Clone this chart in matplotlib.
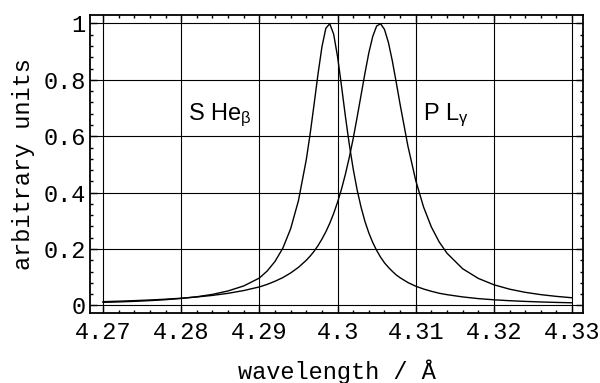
import matplotlib
matplotlib.use('Agg')
import matplotlib.pyplot as plt
from matplotlib.ticker import MultipleLocator, FixedLocator

# wavelength samples (Angstrom) and read-off intensities of the two lines
wavelength = [4.270, 4.272, 4.274, 4.276, 4.278, 4.280, 4.282, 4.284, 4.286, 4.288,
              4.290, 4.291, 4.292, 4.293, 4.294, 4.295, 4.296, 4.2965, 4.297, 4.2975,
              4.298, 4.2985, 4.299, 4.2995, 4.300, 4.3005, 4.301, 4.3015, 4.302, 4.3025,
              4.303, 4.3035, 4.304, 4.3045, 4.305, 4.3055, 4.306, 4.3065, 4.307, 4.3075,
              4.308, 4.309, 4.310, 4.311, 4.312, 4.313, 4.314, 4.316, 4.318, 4.320,
              4.322, 4.324, 4.326, 4.328, 4.330]

s_he_beta = [0.0107, 0.0123, 0.0143, 0.0169, 0.0202, 0.0246, 0.0306, 0.0390, 0.0513, 0.0690,
             0.097, 0.122, 0.156, 0.203, 0.272, 0.372, 0.517, 0.610, 0.714, 0.821,
             0.917, 0.983, 0.999, 0.962, 0.882, 0.779, 0.671, 0.571, 0.484, 0.410,
             0.349, 0.298, 0.257, 0.223, 0.195, 0.171, 0.151, 0.135, 0.121, 0.108,
             0.098, 0.081, 0.068, 0.058, 0.050, 0.043, 0.038, 0.030, 0.024, 0.0198,
             0.0166, 0.0141, 0.0121, 0.0105, 0.0092]

p_l_gamma = [0.0132, 0.0148, 0.0168, 0.0191, 0.0219, 0.0254, 0.0298, 0.0354, 0.0428, 0.0526,
             0.0655, 0.0745, 0.0856, 0.0986, 0.115, 0.135, 0.160, 0.175, 0.192, 0.212,
             0.235, 0.261, 0.291, 0.326, 0.366, 0.412, 0.465, 0.525, 0.592, 0.667,
             0.745, 0.823, 0.896, 0.954, 0.991, 0.999, 0.979, 0.933, 0.868, 0.792,
             0.713, 0.565, 0.443, 0.349, 0.278, 0.225, 0.185, 0.130, 0.0957, 0.0731,
             0.0575, 0.0463, 0.0381, 0.0319, 0.0270]

xticks = [4.27, 4.28, 4.29, 4.30, 4.31, 4.32, 4.33]
xticklabels = ['4.27', '4.28', '4.29', '4.3', '4.31', '4.32', '4.33']
yticks = [0, 0.2, 0.4, 0.6, 0.8, 1.0]
yticklabels = ['0', '0.2', '0.4', '0.6', '0.8', '1']

plt.rcParams['mathtext.fontset'] = 'custom'
plt.rcParams['mathtext.rm'] = 'Liberation Sans'
plt.rcParams['mathtext.it'] = 'Liberation Sans'

mono = 'Liberation Mono'

fig = plt.figure(figsize=(6.0, 3.83), dpi=100)
ax = fig.add_axes([0.15, 0.1828, 0.8217, 0.778])

ax.plot(wavelength, s_he_beta, '-', color='k', lw=1.0)
ax.plot(wavelength, p_l_gamma, '-', color='k', lw=1.0)

ax.set_xlim(4.26833, 4.3314)
ax.set_ylim(-0.027, 1.03)

ax.xaxis.set_major_locator(FixedLocator(xticks))
ax.yaxis.set_major_locator(FixedLocator(yticks))
ax.set_xticklabels(xticklabels, fontfamily=mono, fontsize=17)
ax.set_yticklabels(yticklabels, fontfamily=mono, fontsize=17)
ax.xaxis.set_minor_locator(MultipleLocator(0.002))
ax.yaxis.set_minor_locator(MultipleLocator(0.04))
ax.tick_params(which='both', direction='in', top=True, right=True, width=1.0)
ax.tick_params(which='major', length=5)
ax.tick_params(axis='x', which='major', pad=6)
ax.tick_params(axis='y', which='major', pad=3)
ax.tick_params(which='minor', length=2.5)

ax.grid(True, which='major', color='k', lw=0.8)
for s in ax.spines.values():
    s.set_linewidth(1.3)

ax.set_xlabel('wavelength / Å', fontfamily=mono, fontsize=17, labelpad=11)
ax.set_ylabel('arbitrary units', fontfamily=mono, fontsize=17, labelpad=6)

ax.text(4.2809, 0.658, r'S He$_{\beta}$', fontfamily='Liberation Sans', fontsize=17)
ax.text(4.3109, 0.658, r'P L$_{\gamma}$', fontfamily='Liberation Sans', fontsize=17)

fig.savefig('out.png', dpi=100)
